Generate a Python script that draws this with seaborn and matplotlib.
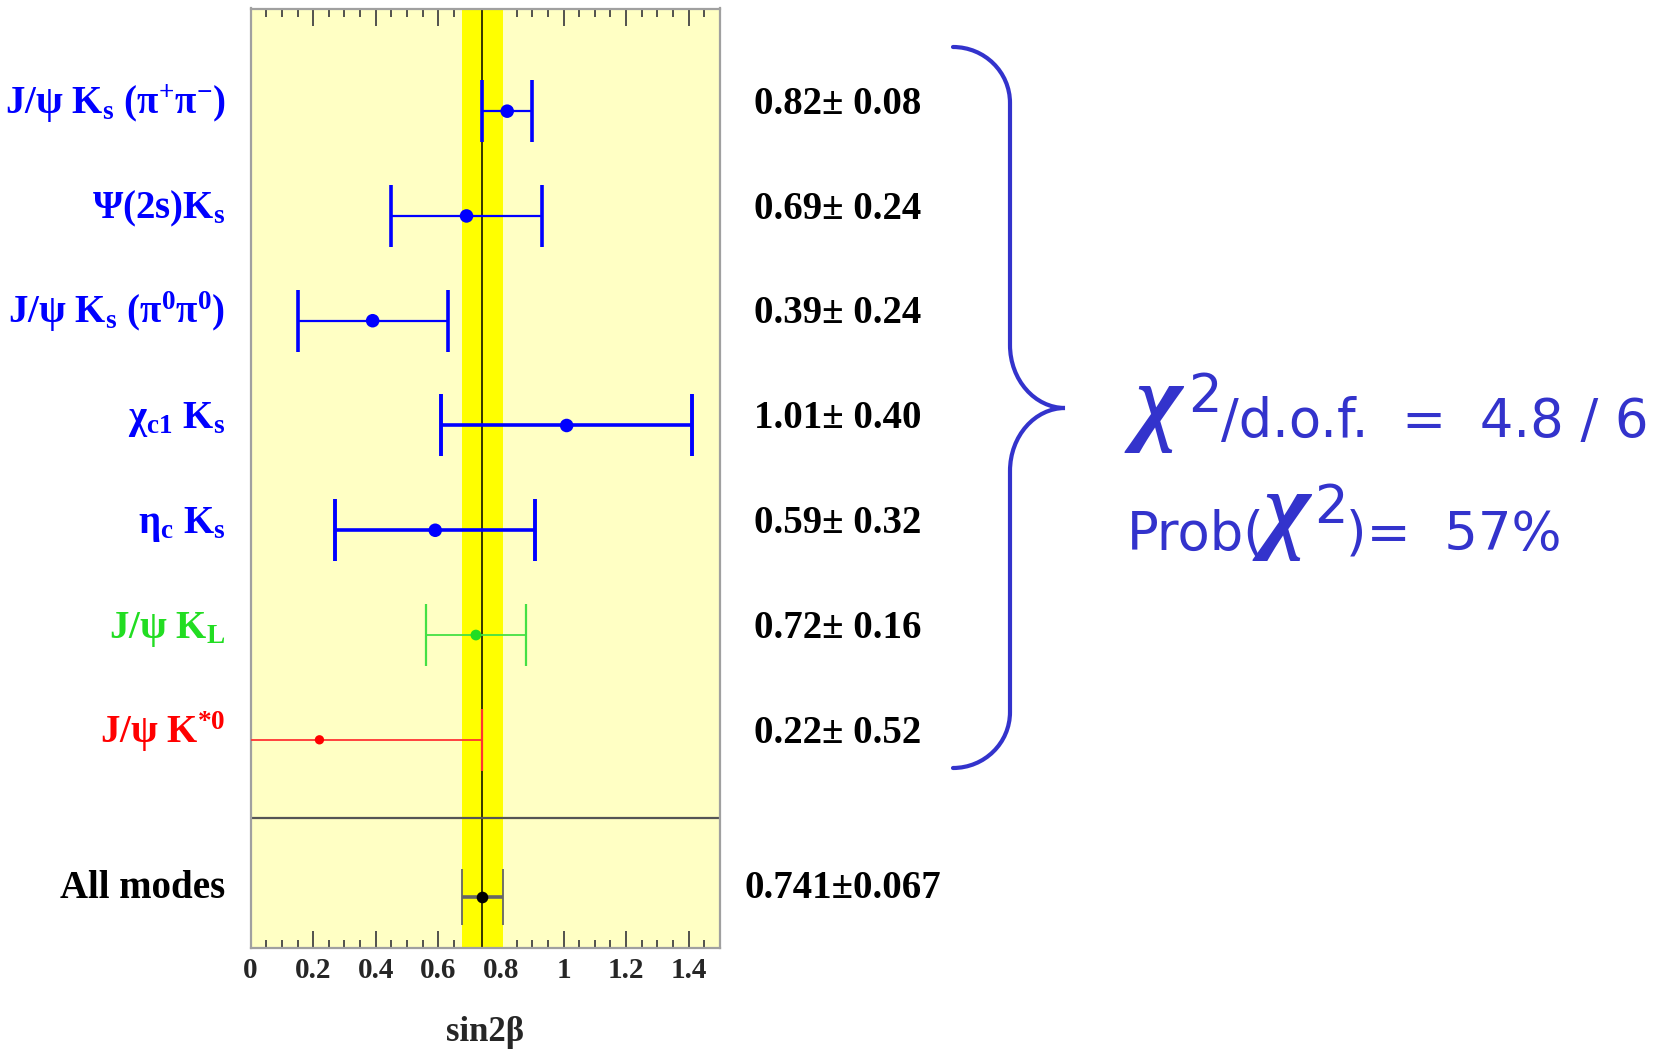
import numpy as np
import pandas as pd
import matplotlib
matplotlib.use("Agg")
import matplotlib.pyplot as plt
import seaborn as sns
from matplotlib.path import Path
from matplotlib.patches import PathPatch
from matplotlib.transforms import Affine2D
from matplotlib.ticker import MultipleLocator, FuncFormatter

# ---- measurements of sin2beta per decay mode ----
modes = [
    "J/ψ K$_\\mathrm{s}$ (π$^{+}$π$^{-}$)",
    "Ψ(2s)K$_\\mathrm{s}$",
    "J/ψ K$_\\mathrm{s}$ (π$^\\mathrm{0}$π$^\\mathrm{0}$)",
    "χ$_\\mathrm{c1}$ K$_\\mathrm{s}$",
    "η$_\\mathrm{c}$ K$_\\mathrm{s}$",
    "J/ψ K$_\\mathrm{L}$",
    "J/ψ K$^{*0}$",
]
values = [0.82, 0.69, 0.39, 1.01, 0.59, 0.72, 0.22]
errors = [0.08, 0.24, 0.24, 0.40, 0.32, 0.16, 0.52]

# combined result
combined_label = "All modes"
combined_value = 0.741
combined_error = 0.067

# fit quality
chi2_value = 4.8
chi2_dof = 6
chi2_prob = 57

xticks = [0, 0.2, 0.4, 0.6, 0.8, 1.0, 1.2, 1.4]

# ---- styles ----
mode_colors = ["#0000ff"] * 5 + ["#22dd22", "#ff0000"]
bar_colors = ["#0000ff"] * 5 + ["#44e044", "#ff3333"]
bar_widths = [1.6, 1.6, 1.6, 2.6, 2.6, 1.3, 1.3]
cap_widths = [2.6, 2.6, 2.6, 2.8, 2.8, 1.6, 1.6]
marker_sizes = [95, 95, 95, 95, 95, 60, 45]
note_color = "#3333cc"

W, H = 1665, 1052
sns.set_theme(style="ticks")
plt.rcParams["font.family"] = ["Liberation Serif", "DejaVu Serif"]
plt.rcParams["font.weight"] = "bold"
plt.rcParams["mathtext.fontset"] = "custom"
plt.rcParams["mathtext.rm"] = "Liberation Serif:bold"
plt.rcParams["mathtext.it"] = "Liberation Serif:italic:bold"
plt.rcParams["mathtext.bf"] = "Liberation Serif:bold"
plt.rcParams["mathtext.sf"] = "DejaVu Sans"

fig = plt.figure(figsize=(W / 100, H / 100), dpi=100)
ax = fig.add_axes([250.6 / W, 1 - 948.3 / H, (720.0 - 250.6) / W, (948.3 - 8.5) / H])

n = len(modes)
positions = np.arange(1, n + 1)
combined_pos = n + 1.5
separator_pos = n + 0.75

df = pd.DataFrame({"mode": modes, "value": values, "error": errors, "pos": positions})

# pale yellow frame background
ax.set_facecolor("#ffffc4")

# combined band and central value
ax.axvspan(combined_value - combined_error, combined_value + combined_error,
           color="#ffff00", zorder=1, linewidth=0)
ax.axvline(combined_value, color="black", lw=1.1, zorder=2)
ax.axhline(separator_pos, color="#555555", lw=1.6, zorder=2)

# individual measurements
for i, row in df.iterrows():
    ax.errorbar(row["value"], row["pos"], xerr=row["error"], fmt="none",
                ecolor=bar_colors[i], elinewidth=bar_widths[i], capsize=22,
                capthick=cap_widths[i], zorder=3)
sns.scatterplot(data=df, x="value", y="pos", hue="mode", size="mode",
                palette=dict(zip(modes, mode_colors)),
                sizes=dict(zip(modes, marker_sizes)),
                linewidth=0, legend=False, zorder=5, ax=ax)

# combined measurement
ax.errorbar(combined_value, combined_pos, xerr=combined_error, fmt="none",
            ecolor="#666666", elinewidth=2.6, capsize=20, capthick=1.3, zorder=3)
sns.scatterplot(x=[combined_value], y=[combined_pos], color="black", s=70,
                linewidth=0, zorder=5, ax=ax)

# axes
ax.set_xlim(0, 1.5)
ax.set_ylim(8.99, 0.02)
ax.set_yticks([])
ax.set_ylabel("")
ax.set_xticks(xticks)
ax.xaxis.set_minor_locator(MultipleLocator(0.05))
ax.xaxis.set_major_formatter(FuncFormatter(lambda v, p: f"{v:g}"))
ax.tick_params(axis="x", which="both", direction="in", top=True, bottom=True,
               color="#444444", width=1.3, labelsize=21, pad=6)
ax.tick_params(axis="x", which="major", length=12)
ax.tick_params(axis="x", which="minor", length=6)
for s in ax.spines.values():
    s.set_color("#a0a0a0")
    s.set_linewidth(1.6)
ax.set_xlabel("sin2β", fontsize=25, fontweight="bold", labelpad=23)

# mode names and values
for i, row in df.iterrows():
    ax.annotate(row["mode"], xy=(0, row["pos"]), xycoords=("axes fraction", "data"),
                xytext=(-18, -2), textcoords="offset points", ha="right", va="baseline",
                fontsize=28, fontweight="bold", color=mode_colors[i])
    ax.annotate(f"{row['value']:.2f}± {row['error']:.2f}", xy=(1, row["pos"]),
                xycoords=("axes fraction", "data"), xytext=(24.5, -2),
                textcoords="offset points", ha="left", va="baseline",
                fontsize=28, fontweight="bold", color="black")
ax.annotate(combined_label, xy=(0, combined_pos), xycoords=("axes fraction", "data"),
            xytext=(-18, -1), textcoords="offset points", ha="right", va="baseline",
            fontsize=28, fontweight="bold", color="black")
ax.annotate(f"{combined_value:.3f}±{combined_error:.3f}", xy=(1, combined_pos),
            xycoords=("axes fraction", "data"), xytext=(18, -1),
            textcoords="offset points", ha="left", va="baseline",
            fontsize=28, fontweight="bold", color="black")

# brace grouping the individual modes
px = Affine2D().scale(1 / W, -1 / H).translate(0, 1) + fig.transFigure
verts = [(953, 47), (984.5, 47), (1010, 72), (1010, 103),
         (1010, 345),
         (1010, 380), (1035, 408), (1065, 408),
         (1035, 408), (1010, 436), (1010, 471),
         (1010, 712),
         (1010, 743), (984.5, 768), (953, 768)]
codes = [Path.MOVETO, Path.CURVE4, Path.CURVE4, Path.CURVE4,
         Path.LINETO,
         Path.CURVE4, Path.CURVE4, Path.CURVE4,
         Path.CURVE4, Path.CURVE4, Path.CURVE4,
         Path.LINETO,
         Path.CURVE4, Path.CURVE4, Path.CURVE4]
fig.add_artist(PathPatch(Path(verts, codes), transform=px, facecolor="none",
                         edgecolor=note_color, lw=3, capstyle="round"))

# fit quality annotation
sans = dict(family="DejaVu Sans", fontweight="normal", color=note_color, fontsize=38)
chi = dict(family="Liberation Serif", style="italic", fontweight="bold",
           color=note_color, fontsize=72)
fig.text(1136, 432, "χ", transform=px, ha="left", va="baseline", **chi)
fig.text(1188, 412, "2", transform=px, ha="left", va="baseline", **sans)
fig.text(1221, 437, f"/d.o.f.  =  {chi2_value} / {chi2_dof}", transform=px,
         ha="left", va="baseline", **sans)
fig.text(1127, 549, "Prob(", transform=px, ha="left", va="baseline", **sans)
fig.text(1264, 540, "χ", transform=px, ha="left", va="baseline", **chi)
fig.text(1314, 523, "2", transform=px, ha="left", va="baseline", **sans)
fig.text(1346, 549, f")=  {chi2_prob}%", transform=px, ha="left", va="baseline", **sans)

fig.savefig("out.png", dpi=100)
